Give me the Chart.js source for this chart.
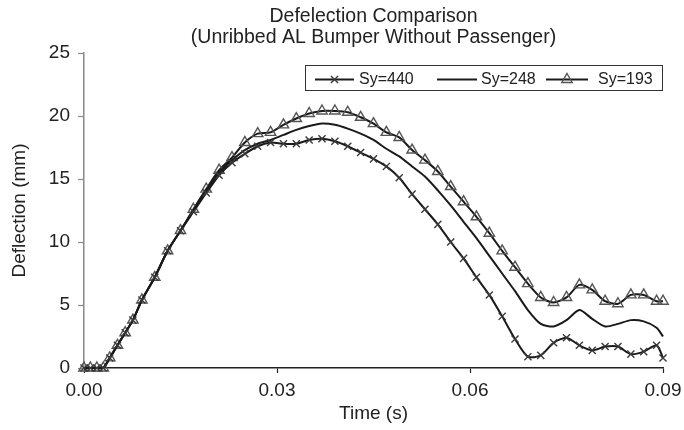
<!DOCTYPE html>
<html><head><meta charset="utf-8">
<script src="https://cdn.jsdelivr.net/npm/chart.js@4/dist/chart.umd.min.js"></script>
<style>html,body{margin:0;padding:0;background:#fff}#wrap{width:684px;height:430px;position:relative}</style>
</head><body><div id="wrap"><canvas id="c" width="684" height="430"></canvas></div>
<script>
const titleLines = ['Defelection Comparison', '(Unribbed AL Bumper Without Passenger)'];
const xTitle = 'Time (s)';
const yTitle = 'Deflection (mm)';
const seriesLabels = ['Sy=440', 'Sy=248', 'Sy=193'];
const xTicks = [0, 0.03, 0.06, 0.09];
const yTicks = [0, 5, 10, 15, 20, 25];

const timeS = [0, 0.001, 0.002, 0.003, 0.004, 0.0052, 0.0064, 0.0076, 0.009, 0.011, 0.013, 0.015, 0.017, 0.019, 0.021,
  0.023, 0.025, 0.027, 0.029, 0.031, 0.033, 0.035, 0.037, 0.039, 0.041, 0.043, 0.045, 0.047, 0.049,
  0.051, 0.053, 0.055, 0.057, 0.059, 0.061, 0.063, 0.065, 0.067, 0.069, 0.071, 0.073, 0.075, 0.077,
  0.079, 0.081, 0.083, 0.085, 0.087, 0.089, 0.090];

const sy440 = [0, 0, 0, 0, 0.8, 1.8, 2.8, 3.8, 5.4, 7.2, 9.3, 10.9, 12.4, 13.9, 15.3,
  16.3, 17.0, 17.6, 17.9, 17.8, 17.8, 18.1, 18.2, 18.0, 17.6,
  17.1, 16.6, 16.0, 15.1, 13.8, 12.6, 11.4, 10.0, 8.7, 7.2,
  5.8, 4.1, 2.3, 0.9, 1.0, 2.0, 2.4, 1.8, 1.4, 1.7,
  1.7, 1.1, 1.3, 1.8, 0.8];

const sy248 = [0, 0, 0, 0, 0.8, 1.8, 2.8, 3.8, 5.4, 7.2, 9.3, 10.9, 12.5, 14.1, 15.5,
  16.5, 17.3, 17.8, 18.1, 18.5, 18.9, 19.2, 19.4, 19.3, 19.0,
  18.6, 18.1, 17.4, 16.8, 16.0, 15.2, 14.1, 12.9, 11.6, 10.3,
  8.9, 7.5, 6.1, 4.6, 3.5, 3.3, 3.8, 4.6, 3.9, 3.3,
  3.5, 3.8, 3.7, 3.2, 2.5];

const sy193 = [0, 0, 0, 0, 0.8, 1.8, 2.8, 3.8, 5.4, 7.2, 9.3, 10.9, 12.6, 14.2, 15.7,
  16.7, 17.9, 18.6, 18.7, 19.3, 19.8, 20.2, 20.4, 20.4, 20.3,
  19.9, 19.4, 18.7, 18.3, 17.3, 16.5, 15.6, 14.4, 13.2, 12.0,
  10.7, 9.3, 8.0, 6.7, 5.6, 5.2, 5.6, 6.6, 6.2, 5.3,
  5.1, 5.8, 5.8, 5.3, 5.3];

const FONT = '"Liberation Sans", Arial, Helvetica, sans-serif';
const toXY = vals => timeS.map((t, i) => ({x: t, y: vals[i]}));

const markerStyles = [
  {pointStyle: 'crossRot', radius: 5, borderWidth: 1.4, color: '#3a3a3a', fill: 'rgba(0,0,0,0)'},
  {pointStyle: false, radius: 0, borderWidth: 0, color: '#1a1a1a', fill: 'rgba(0,0,0,0)'},
  {pointStyle: 'triangle', radius: 6, borderWidth: 1.4, color: '#555', fill: 'rgba(255,255,255,0)'}
];

const centerTitle = {
  id: 'centerTitle',
  afterLayout(chart) {
    const tb = chart.titleBlock;
    if (tb) { tb.left = chart.chartArea.left; tb.right = chart.chartArea.right; tb.width = tb.right - tb.left; }
  }
};

const boxLegend = {
  id: 'boxLegend',
  afterDraw(chart) {
    const ctx = chart.ctx;
    ctx.save();
    ctx.fillStyle = '#fff';
    ctx.fillRect(305.5, 65.5, 357, 25);
    ctx.strokeStyle = '#333';
    ctx.lineWidth = 1;
    ctx.strokeRect(305.5, 65.5, 357, 25);
    const items = [{x0: 315, x1: 354, tx: 359}, {x0: 437, x1: 477, tx: 481}, {x0: 546, x1: 588, tx: 598}];
    const y = 79.5;
    chart.data.datasets.forEach((ds, i) => {
      const it = items[i];
      ctx.strokeStyle = '#1a1a1a';
      ctx.lineWidth = 2;
      ctx.beginPath(); ctx.moveTo(it.x0, y); ctx.lineTo(it.x1, y); ctx.stroke();
      const m = markerStyles[i];
      if (m.pointStyle) {
        ctx.strokeStyle = m.color;
        ctx.fillStyle = m.fill;
        ctx.lineWidth = m.borderWidth;
        Chart.helpers.drawPoint(ctx, {pointStyle: m.pointStyle, radius: m.radius, borderWidth: m.borderWidth, rotation: 0}, (it.x0 + it.x1) / 2, y);
      }
      ctx.fillStyle = '#222';
      ctx.font = '16px ' + FONT;
      ctx.textBaseline = 'middle';
      ctx.textAlign = 'left';
      ctx.fillText(ds.label, it.tx, y);
    });
    ctx.restore();
  }
};

const datasets = [sy440, sy248, sy193].map((vals, i) => ({
  label: seriesLabels[i],
  data: toXY(vals),
  borderColor: '#1a1a1a',
  borderWidth: 2,
  tension: 0.25,
  pointStyle: markerStyles[i].pointStyle,
  pointRadius: markerStyles[i].radius,
  pointBorderColor: markerStyles[i].color,
  pointBackgroundColor: markerStyles[i].fill,
  pointBorderWidth: markerStyles[i].borderWidth,
  clip: false
}));

new Chart(document.getElementById('c'), {
  type: 'line',
  data: {datasets},
  plugins: [centerTitle, boxLegend],
  options: {
    responsive: false,
    animation: false,
    devicePixelRatio: 1,
    layout: {padding: {left: 0, right: 21, top: 0, bottom: 0}},
    plugins: {
      legend: {display: false},
      tooltip: {enabled: false},
      title: {
        display: true,
        text: titleLines,
        color: '#222',
        font: {family: FONT, size: 19.5, weight: 'normal', lineHeight: 1.08},
        padding: {top: 6.5, bottom: 4.4}
      }
    },
    scales: {
      x: {
        type: 'linear',
        min: 0, max: 0.09,
        afterBuildTicks: s => { s.ticks = xTicks.map(v => ({value: v})); },
        afterFit: s => { s.height = 62; s.paddingRight = 0; s.paddingLeft = 0; },
        ticks: {
          color: '#222', padding: 6,
          font: {family: FONT, size: 19},
          callback: v => Number(v).toFixed(2)
        },
        grid: {drawOnChartArea: false, drawTicks: true, tickLength: 5, tickColor: '#222', tickWidth: 1.2},
        border: {display: true, color: '#222', width: 1.5},
        title: {display: true, text: xTitle, color: '#222', font: {family: FONT, size: 19, lineHeight: 1.2}, padding: {top: 0, bottom: 4.5}}
      },
      y: {
        type: 'linear',
        min: 0, max: 25,
        afterBuildTicks: s => { s.ticks = yTicks.map(v => ({value: v})); },
        afterFit: s => { s.width = 84; s.paddingTop = 0; s.paddingBottom = 0; },
        ticks: {color: '#222', padding: 8, font: {family: FONT, size: 19}},
        grid: {drawOnChartArea: false, drawTicks: true, tickLength: 6, tickColor: '#888', tickWidth: 1.2},
        border: {display: true, color: '#888', width: 1.5},
        title: {display: true, text: yTitle, color: '#222', font: {family: FONT, size: 19, lineHeight: 1.2}, padding: {top: 8.5, bottom: 0}}
      }
    }
  }
});
</script>
</body></html>
